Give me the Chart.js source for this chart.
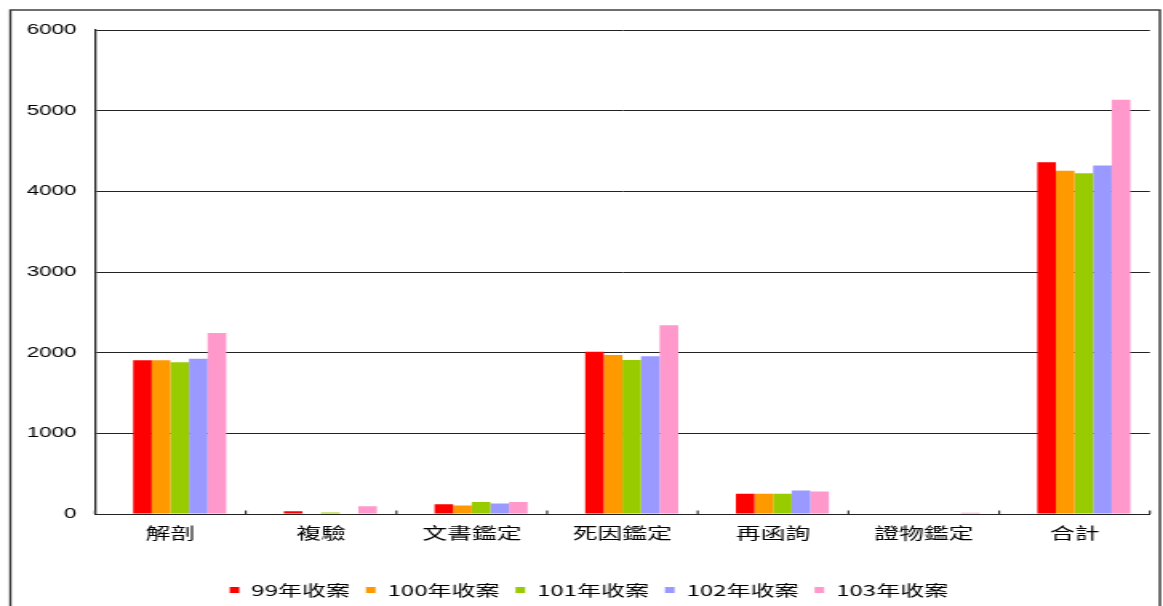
<!DOCTYPE html>
<html>
<head>
<meta charset="utf-8">
<script src="https://cdn.jsdelivr.net/npm/chart.js@4/dist/chart.umd.min.js"></script>
<style>
  html, body { margin: 0; padding: 0; background: #fff; overflow: hidden; }
</style>
</head>
<body>
<canvas id="c" width="727" height="606" style="display:block;width:1163px;height:606px;"></canvas>
<script>
const categories = ['解剖', '複驗', '文書鑑定', '死因鑑定', '再函詢', '證物鑑定', '合計'];
const seriesNames = ['99年收案', '100年收案', '101年收案', '102年收案', '103年收案'];
const y99  = [1905, 35, 120, 2010, 250, 0, 4360];
const y100 = [1905, 0, 105, 1970, 250, 0, 4255];
const y101 = [1880, 20, 150, 1910, 250, 0, 4225];
const y102 = [1925, 0, 130, 1955, 290, 0, 4320];
const y103 = [2245, 95, 150, 2340, 278, 15, 5135];
const yTicks = [0, 1000, 2000, 3000, 4000, 5000, 6000];
const colors = ['#FF0000', '#FF9900', '#99CC00', '#9999FF', '#FF99CC'];
const FONT = '"Noto Sans CJK TC", "Noto Sans", sans-serif';
const NUMFONT = '"Liberation Sans", Arial, sans-serif';

const frame = {
  id: 'frame',
  beforeDraw(chart) {
    const ctx = chart.ctx;
    ctx.save();
    ctx.fillStyle = '#fff';
    ctx.fillRect(0, 0, chart.width, chart.height);
    ctx.strokeStyle = '#333';
    ctx.lineWidth = 1.4;
    ctx.strokeRect(6.5, 10, 718.5, 640);
    ctx.restore();
  },
  afterLayout(chart) {
    // nudge the legend row to sit where the original's does
    if (chart.legend) { chart.legend.left += 8.75; chart.legend.right += 8.75; }
  },
  afterDatasetsDraw(chart) {
    const ctx = chart.ctx;
    const xs = chart.scales.x;
    const b = chart.chartArea.bottom;
    ctx.save();
    ctx.strokeStyle = '#333';
    ctx.lineWidth = 1.2;
    const n = categories.length;
    for (let i = 0; i <= n; i++) {
      const px = xs.left + (xs.right - xs.left) * i / n;
      ctx.beginPath();
      ctx.moveTo(px, b - 3.5);
      ctx.lineTo(px, b);
      ctx.stroke();
    }
    ctx.restore();
  }
};

const data = [y99, y100, y101, y102, y103];
// an empty leading slot reproduces the original's right-shifted bar groups
const spacer = { label: '', data: categories.map(() => null), backgroundColor: 'rgba(0,0,0,0)',
                 borderWidth: 0, categoryPercentage: 0.741, barPercentage: 1.0 };
new Chart(document.getElementById('c'), {
  type: 'bar',
  data: {
    labels: categories,
    datasets: [spacer].concat(seriesNames.map((n, i) => ({
      label: n,
      data: data[i],
      backgroundColor: colors[i],
      borderWidth: 0,
      categoryPercentage: 0.741,
      barPercentage: 1.0
    })))
  },
  options: {
    responsive: false,
    animation: false,
    layout: { padding: { left: 0, right: 8.25, top: 30, bottom: -1.5 } },
    plugins: {
      tooltip: { enabled: false },
      legend: {
        position: 'bottom',
        labels: {
          font: { family: FONT, size: 15, lineHeight: 1.0 },
          color: '#000',
          boxWidth: 6,
          boxHeight: 6,
          padding: 10,
          filter: (item) => item.text !== ''
        }
      }
    },
    scales: {
      x: {
        grid: { display: false, drawTicks: false },
        border: { display: true, color: '#222', width: 1 },
        ticks: { font: { family: FONT, size: 15.5 }, color: '#000', padding: 10, maxRotation: 0, autoSkip: false },
        afterFit(s) { s.height = 58.5; }
      },
      y: {
        min: 0, max: 6000,
        afterBuildTicks(s) { s.ticks = yTicks.map(v => ({ value: v })); },
        grid: { color: '#222', lineWidth: 1, drawTicks: false },
        border: { display: true, color: '#222', width: 1.3 },
        ticks: { font: { family: NUMFONT, size: 14 }, color: '#000', padding: 11.5, callback: (v) => String(v) },
        afterFit(s) { s.width = 59.4; }
      }
    }
  },
  plugins: [frame]
});
</script>
</body>
</html>
